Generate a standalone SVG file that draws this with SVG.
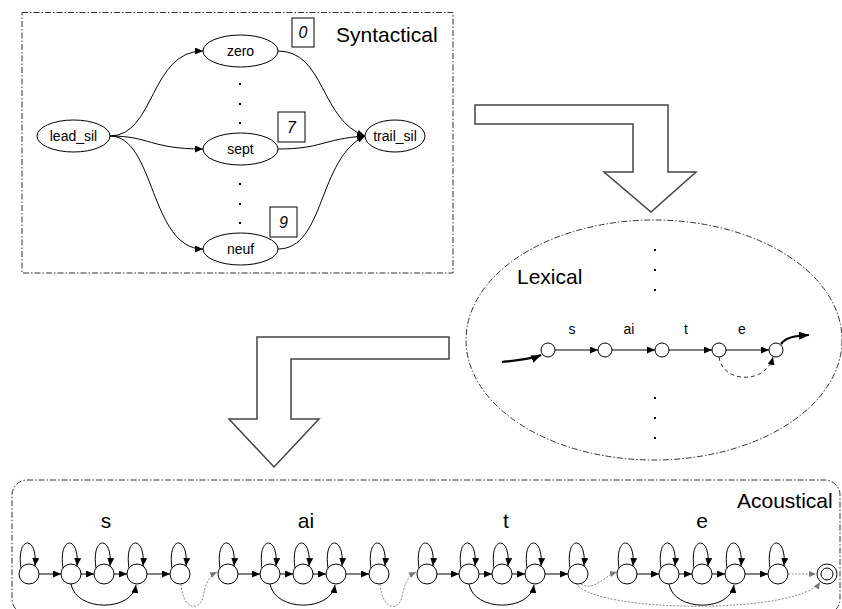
<svg xmlns="http://www.w3.org/2000/svg" width="842" height="609" viewBox="0 0 842 609">
<style>
text{font-family:"Liberation Sans",Arial,sans-serif;fill:#000}
.frame{fill:none;stroke:#333;stroke-width:1;stroke-dasharray:6 2 1.5 2}
.node{fill:#fff;stroke:#000;stroke-width:1}
.lbl{font-size:14px;text-anchor:middle}
.title{font-size:21px}
.num{font-size:16px;font-style:italic;text-anchor:middle}
.edge{fill:none;stroke:#000;stroke-width:1;marker-end:url(#ah)}
.thick{fill:none;stroke:#000;stroke-width:2.2;marker-end:url(#ahb)}
.dash{fill:none;stroke:#333;stroke-width:1;stroke-dasharray:4 3;marker-end:url(#ah)}
.dot{fill:none;stroke:#888;stroke-width:1;stroke-dasharray:2 1.5;marker-end:url(#ahg)}
.big{fill:#fff;stroke:#444;stroke-width:1.5}
.st{fill:#fff;stroke:#000;stroke-width:1}
</style>
<defs>
<marker id="ah" viewBox="0 0 10 10" refX="10" refY="5" markerWidth="8" markerHeight="7" markerUnits="userSpaceOnUse" orient="auto" preserveAspectRatio="none"><path d="M0,0 L10,5 L0,10 z" fill="#000"/></marker>
<marker id="ahb" viewBox="0 0 10 10" refX="10" refY="5" markerWidth="10" markerHeight="8" markerUnits="userSpaceOnUse" orient="auto" preserveAspectRatio="none"><path d="M0,0 L10,5 L0,10 z" fill="#000"/></marker>
<marker id="ahg" viewBox="0 0 10 10" refX="10" refY="5" markerWidth="7" markerHeight="6" markerUnits="userSpaceOnUse" orient="auto" preserveAspectRatio="none"><path d="M0,0 L10,5 L0,10 z" fill="#777"/></marker>
</defs>

<!-- Syntactical level -->
<g id="syntactical">
<rect class="frame" x="22" y="12.5" width="431" height="260.5"/>
<text class="title" x="336" y="42">Syntactical</text>
<g id="dots-syn" fill="#000">
<rect x="239" y="83" width="2" height="2"/><rect x="239" y="103" width="2" height="2"/><rect x="239" y="122" width="2" height="2"/>
<rect x="239" y="183" width="2" height="2"/><rect x="239" y="203" width="2" height="2"/><rect x="239" y="222" width="2" height="2"/>
</g>
</g>
<g id="lead_sil"><ellipse class="node" cx="73.5" cy="136" rx="36.5" ry="16"/><text class="lbl" x="73.5" y="141">lead_sil</text></g>
<g id="zero"><ellipse class="node" cx="240.5" cy="51" rx="37.5" ry="16"/><text class="lbl" x="240.5" y="56">zero</text></g>
<g id="sept"><ellipse class="node" cx="240.5" cy="149" rx="37.5" ry="16"/><text class="lbl" x="240.5" y="154">sept</text></g>
<g id="neuf"><ellipse class="node" cx="240.5" cy="249" rx="37.5" ry="16"/><text class="lbl" x="240.5" y="254">neuf</text></g>
<g id="trail_sil"><ellipse class="node" cx="395" cy="136" rx="30" ry="16"/><text class="lbl" x="395" y="141">trail_sil</text></g>
<g id="box0"><rect class="node" x="292" y="18" width="22" height="29"/><text class="num" x="303" y="38">0</text></g>
<g id="box7"><rect class="node" x="278" y="112" width="27" height="30"/><text class="num" x="291.5" y="133">7</text></g>
<g id="box9"><rect class="node" x="270" y="207" width="27" height="30"/><text class="num" x="283.5" y="228">9</text></g>

<!-- Big transition arrows -->
<g id="arrow-syn-lex"><polygon class="big" points="475,105 668,105 668,172 696,172 651,212 604,172 633,172 633,124 475,124"/></g>
<g id="arrow-lex-ac"><polygon class="big" points="449,337 449,359 291,359 291,419 319,419 274,467 229,419 257,419 257,337"/></g>

<!-- Lexical level -->
<g id="lexical">
<ellipse class="frame" cx="654" cy="340" rx="188" ry="120" stroke="#555"/>
<text class="title" x="517" y="284">Lexical</text>
<g id="dots-lex" fill="#000">
<rect x="654" y="249" width="2" height="2"/><rect x="654" y="269" width="2" height="2"/><rect x="654" y="289" width="2" height="2"/>
<rect x="654" y="397" width="2" height="2"/><rect x="654" y="417" width="2" height="2"/><rect x="654" y="437" width="2" height="2"/>
</g>
<text class="lbl" x="572" y="334">s</text>
<text class="lbl" x="629" y="334">ai</text>
<text class="lbl" x="686" y="334">t</text>
<text class="lbl" x="742" y="334">e</text>
</g>
<g id="lex-q0"><circle class="st" cx="548" cy="350" r="7"/></g>
<g id="lex-q1"><circle class="st" cx="605" cy="350" r="7"/></g>
<g id="lex-q2"><circle class="st" cx="662" cy="350" r="7"/></g>
<g id="lex-q3"><circle class="st" cx="719" cy="350" r="7"/></g>
<g id="lex-q4"><circle class="st" cx="776" cy="350" r="7"/></g>

<!-- Acoustical level -->
<g id="acoustical">
<rect class="frame" x="12" y="480" width="828" height="134" rx="15" ry="15"/>
<text class="title" x="737" y="508">Acoustical</text>
<text class="title" x="106" y="528" text-anchor="middle">s</text>
<text class="title" x="306" y="528" text-anchor="middle">ai</text>
<text class="title" x="506" y="528" text-anchor="middle">t</text>
<text class="title" x="702" y="528" text-anchor="middle">e</text>
</g>
<g id="ac-s0"><circle class="st" cx="29" cy="574" r="10"/></g>
<g id="ac-s1"><circle class="st" cx="71" cy="574" r="10"/></g>
<g id="ac-s2"><circle class="st" cx="104" cy="574" r="10"/></g>
<g id="ac-s3"><circle class="st" cx="137" cy="574" r="10"/></g>
<g id="ac-s4"><circle class="st" cx="180" cy="574" r="10"/></g>
<g id="ac-ai0"><circle class="st" cx="228" cy="574" r="10"/></g>
<g id="ac-ai1"><circle class="st" cx="270" cy="574" r="10"/></g>
<g id="ac-ai2"><circle class="st" cx="303" cy="574" r="10"/></g>
<g id="ac-ai3"><circle class="st" cx="336" cy="574" r="10"/></g>
<g id="ac-ai4"><circle class="st" cx="379" cy="574" r="10"/></g>
<g id="ac-t0"><circle class="st" cx="427" cy="574" r="10"/></g>
<g id="ac-t1"><circle class="st" cx="469" cy="574" r="10"/></g>
<g id="ac-t2"><circle class="st" cx="502" cy="574" r="10"/></g>
<g id="ac-t3"><circle class="st" cx="535" cy="574" r="10"/></g>
<g id="ac-t4"><circle class="st" cx="578" cy="574" r="10"/></g>
<g id="ac-e0"><circle class="st" cx="627" cy="574" r="10"/></g>
<g id="ac-e1"><circle class="st" cx="669" cy="574" r="10"/></g>
<g id="ac-e2"><circle class="st" cx="702" cy="574" r="10"/></g>
<g id="ac-e3"><circle class="st" cx="735" cy="574" r="10"/></g>
<g id="ac-e4"><circle class="st" cx="778" cy="574" r="10"/></g>
<g id="ac-final"><circle class="st" cx="827" cy="574" r="10"/><circle class="st" cx="827" cy="574" r="6"/></g>

<!-- Connectors -->
<g id="connectors">
<!-- syntactical -->
<path class="edge" d="M110,136 C155,136 150,51 203,51"/>
<path class="edge" d="M110,136 C150,136 150,149 203,149"/>
<path class="edge" d="M110,136 C155,136 150,249 203,249"/>
<path class="edge" d="M278,51 C325,51 320,120 365,136"/>
<path class="edge" d="M278,149 C322,149 322,139 365,136"/>
<path class="edge" d="M278,249 C325,249 318,158 365,136"/>
<!-- lexical -->
<path class="thick" d="M502,362 C520,360 532,359 541,355"/>
<path class="edge" d="M555,350 L598,350"/>
<path class="edge" d="M612,350 L655,350"/>
<path class="edge" d="M669,350 L712,350"/>
<path class="edge" d="M726,350 L769,350"/>
<path class="dash" d="M719,357 C722,383 766,385 773,357"/>
<path class="thick" d="M781,344 C786,337 795,336 809,335"/>
<!-- acoustical self loops -->
<path class="edge" d="M21,568 C16,535 38,535 35,566"/>
<path class="edge" d="M63,568 C58,535 80,535 77,566"/>
<path class="edge" d="M96,568 C91,535 113,535 110,566"/>
<path class="edge" d="M129,568 C124,535 146,535 143,566"/>
<path class="edge" d="M172,568 C167,535 189,535 186,566"/>
<path class="edge" d="M220,568 C215,535 237,535 234,566"/>
<path class="edge" d="M262,568 C257,535 279,535 276,566"/>
<path class="edge" d="M295,568 C290,535 312,535 309,566"/>
<path class="edge" d="M328,568 C323,535 345,535 342,566"/>
<path class="edge" d="M371,568 C366,535 388,535 385,566"/>
<path class="edge" d="M419,568 C414,535 436,535 433,566"/>
<path class="edge" d="M461,568 C456,535 478,535 475,566"/>
<path class="edge" d="M494,568 C489,535 511,535 508,566"/>
<path class="edge" d="M527,568 C522,535 544,535 541,566"/>
<path class="edge" d="M570,568 C565,535 587,535 584,566"/>
<path class="edge" d="M619,568 C614,535 636,535 633,566"/>
<path class="edge" d="M661,568 C656,535 678,535 675,566"/>
<path class="edge" d="M694,568 C689,535 711,535 708,566"/>
<path class="edge" d="M727,568 C722,535 744,535 741,566"/>
<path class="edge" d="M770,568 C765,535 787,535 784,566"/>
<!-- acoustical forward -->
<path class="edge" d="M39,574 L61,574"/><path class="edge" d="M81,574 L94,574"/><path class="edge" d="M114,574 L127,574"/><path class="edge" d="M147,574 L170,574"/>
<path class="edge" d="M238,574 L260,574"/><path class="edge" d="M280,574 L293,574"/><path class="edge" d="M313,574 L326,574"/><path class="edge" d="M346,574 L369,574"/>
<path class="edge" d="M437,574 L459,574"/><path class="edge" d="M479,574 L492,574"/><path class="edge" d="M512,574 L525,574"/><path class="edge" d="M545,574 L568,574"/>
<path class="edge" d="M637,574 L659,574"/><path class="edge" d="M679,574 L692,574"/><path class="edge" d="M712,574 L725,574"/><path class="edge" d="M745,574 L768,574"/>
<!-- acoustical skips -->
<path class="edge" d="M71,584 C76,612 132,612 136,585"/>
<path class="edge" d="M270,584 C275,612 331,612 335,585"/>
<path class="edge" d="M469,584 C474,612 530,612 534,585"/>
<path class="edge" d="M669,584 C674,612 730,612 734,585"/>
<!-- inter-model dotted -->
<path class="dot" d="M181,584 C183,610 199,612 203,597 C205,585 209,576 217,572"/>
<path class="dot" d="M380,584 C382,610 398,612 402,597 C404,585 408,576 416,572"/>
<path class="dot" d="M581,584 C594,592 604,576 617,572"/>
<path class="dot" d="M576,584 C600,614 800,614 820,582"/>
<path class="dot" d="M788,574 L816,574"/>
</g>
</svg>
